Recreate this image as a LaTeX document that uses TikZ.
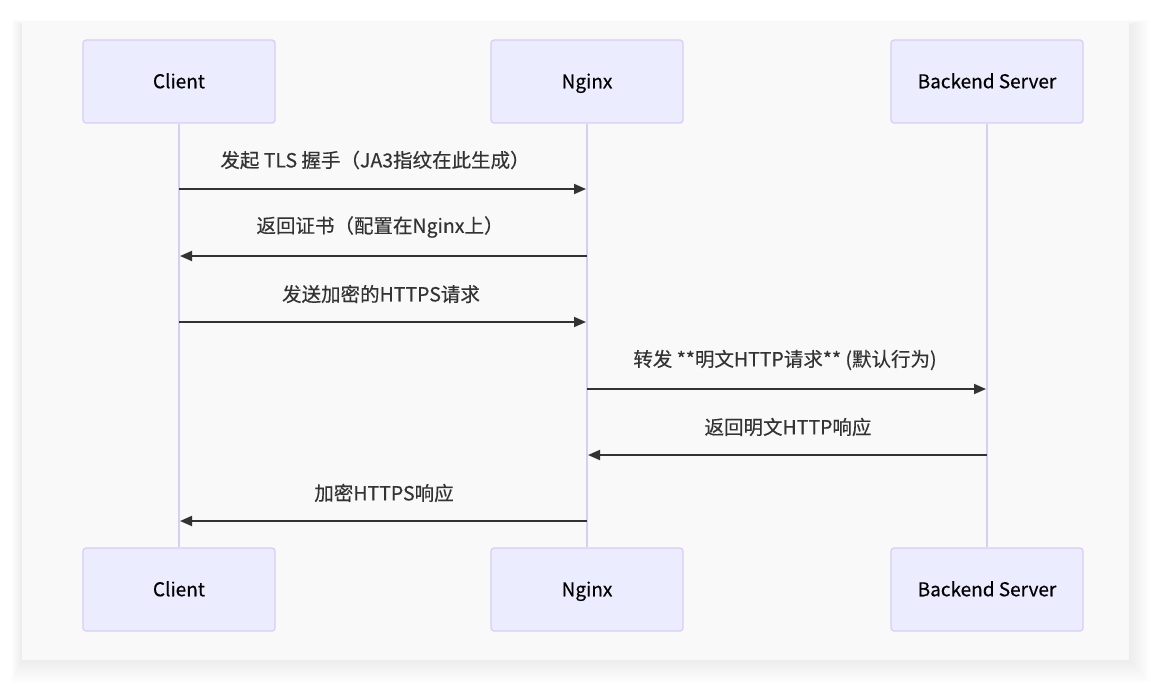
\documentclass[tikz,border=0pt]{standalone}
\usepackage{fontspec}
\setmainfont{Noto Sans CJK SC}
\newfontfamily\lblfont{Noto Sans CJK SC}[FakeBold=0.35]
\usetikzlibrary{arrows.meta}
\definecolor{panel}{HTML}{F9F9F9}
\definecolor{actfill}{HTML}{ECECFF}
\definecolor{actline}{HTML}{D9CDF6}
\definecolor{ink}{HTML}{333333}
\tikzset{
  actor/.style={draw=actline, line width=1.2pt, fill=actfill, rounded corners=3pt,
    minimum width=192pt, minimum height=83pt, inner sep=0pt, text=black,
    text height=15pt, text depth=1.5pt, font=\lblfont\fontsize{19}{21}\selectfont},
  lifeline/.style={draw=actline, line width=2pt},
  msg/.style={draw=ink, line width=1.8pt, -{Triangle[length=12pt,width=10pt]}, shorten >=1pt},
  msglabel/.style={text=ink, font=\lblfont\fontsize{19.5}{21}\selectfont, inner sep=0pt}
}
\begin{document}
\begin{tikzpicture}[x=1pt,y=-1pt]
\useasboundingbox (0,0) rectangle (1151,683);
\fill[white] (0,0) rectangle (1151,683);
% shadow
\foreach \i in {1,...,18}{
  \fill[black, opacity=0.005] (22-\i*0.6,22-\i*0.3+3) rectangle (1129+\i*1.2,660+\i*1.3);
}
\fill[panel] (22,22) rectangle (1129,660);
% actors
\node[actor] (c1) at (179,81.5) {Client};
\node[actor] (n1) at (587,81.5) {Nginx};
\node[actor] (b1) at (987,81.5) {Backend Server};
\node[actor] (c2) at (179,589.5) {Client};
\node[actor] (n2) at (587,589.5) {Nginx};
\node[actor] (b2) at (987,589.5) {Backend Server};
% lifelines
\draw[lifeline] (c1.south) -- (c2.north);
\draw[lifeline] (n1.south) -- (n2.north);
\draw[lifeline] (b1.south) -- (b2.north);
% message points
\coordinate (c-1) at (179,189); \coordinate (n-1) at (587,189);
\coordinate (c-2) at (179,256); \coordinate (n-2) at (587,256);
\coordinate (c-3) at (179,322); \coordinate (n-3) at (587,322);
\coordinate (n-4) at (587,389); \coordinate (b-4) at (987,389);
\coordinate (n-5) at (587,455); \coordinate (b-5) at (987,455);
\coordinate (c-6) at (179,521); \coordinate (n-6) at (587,521);
% messages
\draw[msg] (c-1) -- (n-1);
\node[msglabel] (l1) at (375,160) {发起 TLS 握手（JA3指纹在此生成）};
\draw[msg] (n-2) -- (c-2);
\node[msglabel] (l2) at (380,227) {返回证书（配置在Nginx上）};
\draw[msg] (c-3) -- (n-3);
\node[msglabel] (l3) at (381,294) {发送加密的HTTPS请求};
\draw[msg] (n-4) -- (b-4);
\node[msglabel] (l4) at (785,360) {转发 **明文HTTP请求** (默认行为)};
\draw[msg] (b-5) -- (n-5);
\node[msglabel] (l5) at (788,427) {返回明文HTTP响应};
\draw[msg] (n-6) -- (c-6);
\node[msglabel] (l6) at (384,493) {加密HTTPS响应};
\end{tikzpicture}
\end{document}
